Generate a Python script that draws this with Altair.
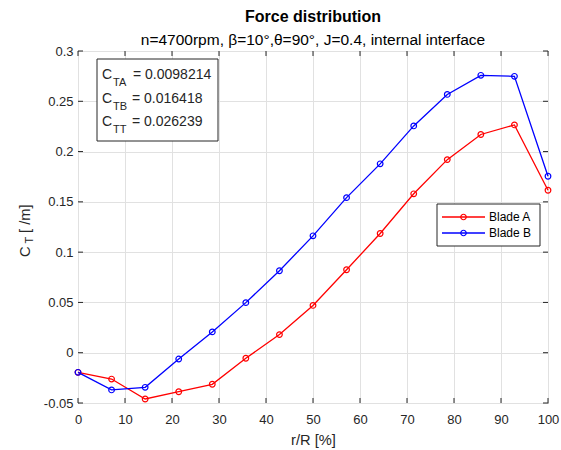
import altair as alt
import pandas as pd

# Radial stations r/R [%] and thrust coefficient per unit length for each blade
r_over_R = [0, 7.14, 14.29, 21.43, 28.57, 35.71, 42.86, 50, 57.14, 64.29, 71.43, 78.57, 85.71, 92.86, 100]
ct_blade_a = [-0.0195, -0.0262, -0.046, -0.0388, -0.0314, -0.0055, 0.018, 0.047, 0.0825, 0.1185, 0.158, 0.192, 0.217, 0.2265, 0.1615]
ct_blade_b = [-0.0195, -0.037, -0.0344, -0.0063, 0.0207, 0.0498, 0.0815, 0.1162, 0.1542, 0.1878, 0.2255, 0.2568, 0.2758, 0.2748, 0.1755]

series_names = ["Blade A", "Blade B"]
series_colors = ["#ff0000", "#0000ff"]

x_ticks = [0, 10, 20, 30, 40, 50, 60, 70, 80, 90, 100]
y_ticks = [-0.05, 0, 0.05, 0.1, 0.15, 0.2, 0.25, 0.3]

coef_subscripts = ["TA", "TB", "TT"]
coef_values = ["= 0.0098214", "= 0.016418", "= 0.026239"]

W, H = 470, 352
FONT = "Liberation Sans"
AX = "#262626"

df = pd.DataFrame({
    "r": r_over_R * 2,
    "ct": ct_blade_a + ct_blade_b,
    "blade": [series_names[0]] * len(r_over_R) + [series_names[1]] * len(r_over_R),
})

color = alt.Color("blade:N", scale=alt.Scale(domain=series_names, range=series_colors), legend=None)

x_enc = alt.X(
    "r:Q",
    scale=alt.Scale(domain=[0, 100], nice=False, zero=False),
    axis=alt.Axis(values=x_ticks, title="r/R [%]", ticks=False, domain=False,
                  labelFontSize=13, titleFontSize=14.67, labelPadding=10, titlePadding=6,
                  labelFlush=False),
)
y_enc = alt.Y(
    "ct:Q",
    scale=alt.Scale(domain=[-0.05, 0.3], nice=False, zero=False),
    axis=alt.Axis(values=y_ticks, title=None, ticks=False, domain=False,
                  labelFontSize=13, labelPadding=5, labelFlush=False,
                  labelExpr="datum.value < 0 ? '-' + format(-datum.value, '~g') : format(datum.value, '~g')"),
)

lines = alt.Chart(df).mark_line(strokeWidth=1.3).encode(x=x_enc, y=y_enc, color=color)
points = alt.Chart(df).mark_point(filled=False, size=32, strokeWidth=1.2, opacity=1).encode(
    x="r:Q", y="ct:Q", color=color)

# Inward-pointing tick marks on all four sides of the box
xt = pd.DataFrame({"r": x_ticks})
yt = pd.DataFrame({"ct": y_ticks})
tick_style = dict(color=AX, strokeWidth=1)
bottom_ticks = alt.Chart(xt).mark_rule(**tick_style).encode(x="r:Q", y=alt.value(H), y2=alt.value(H - 5))
top_ticks = alt.Chart(xt).mark_rule(**tick_style).encode(x="r:Q", y=alt.value(0), y2=alt.value(5))
left_ticks = alt.Chart(yt).mark_rule(**tick_style).encode(y="ct:Q", x=alt.value(0), x2=alt.value(5))
right_ticks = alt.Chart(yt).mark_rule(**tick_style).encode(y="ct:Q", x=alt.value(W - 5), x2=alt.value(W))


def one_row(**cols):
    return pd.DataFrame({k: [v] for k, v in cols.items()})


def label(text, x, y, size, angle=0, align="left", baseline="alphabetic", color=AX):
    return alt.Chart(one_row(t=text)).mark_text(
        font=FONT, fontSize=size, align=align, baseline=baseline, angle=angle, color=color
    ).encode(x=alt.value(x), y=alt.value(y), text="t:N")


def box(x0, x1, y0, y1):
    return alt.Chart(one_row(k=0)).mark_rect(fill="white", stroke=AX, strokeWidth=1).encode(
        x=alt.value(x0), x2=alt.value(x1), y=alt.value(y0), y2=alt.value(y1))


# Y axis title with subscript: C_T [ /m]
y_title = [
    label("C", -48, 206, 14.67, angle=270),
    label("T", -45.5, 192.5, 11, angle=270),
    label("[ /m]", -48, 182, 14.67, angle=270),
]

# Text box with integrated coefficients
coef_layers = [box(19, 140, 8, 90)]
for i, (sub, val) in enumerate(zip(coef_subscripts, coef_values)):
    base = 28 + 23.7 * i
    coef_layers.append(label("C", 24, base, 14))
    coef_layers.append(label(sub, 35, base + 7, 11))
    coef_layers.append(label(val, 55 if i == 0 else 54, base, 14))

# Legend box with line + marker samples
legend_layers = [box(359, 462, 153, 195)]
for i, (name, col) in enumerate(zip(series_names, series_colors)):
    yy = 166 + 16 * i
    legend_layers.append(
        alt.Chart(one_row(n=name)).mark_rule(color=col, strokeWidth=1.3).encode(
            x=alt.value(364), x2=alt.value(407), y=alt.value(yy)))
    legend_layers.append(
        alt.Chart(one_row(n=name)).mark_point(filled=False, size=30, strokeWidth=1.2, color=col, opacity=1).encode(
            x=alt.value(385.5), y=alt.value(yy)))
    legend_layers.append(label(name, 411, yy, 12, baseline="middle", color="black"))

chart = alt.layer(
    lines, points, bottom_ticks, top_ticks, left_ticks, right_ticks,
    *y_title, *coef_layers, *legend_layers,
).properties(
    width=W,
    height=H,
    autosize=alt.AutoSizeParams(type="none"),
    padding={"left": 78, "top": 51, "right": 13, "bottom": 47},
    background="white",
    title=alt.TitleParams(
        text="Force distribution",
        subtitle="n=4700rpm, β=10°,θ=90°, J=0.4, internal interface",
        font=FONT, fontSize=16, fontWeight="bold", color="black",
        subtitleFont=FONT, subtitleFontSize=15.5, subtitleColor="black",
        anchor="middle", offset=-3, subtitlePadding=8,
    ),
).configure_view(
    stroke=AX, strokeWidth=1
).configure_axis(
    gridColor="#e1e1e1", gridWidth=1, labelColor=AX, titleColor=AX,
    labelFont=FONT, titleFont=FONT, titleFontWeight="normal",
)

chart.save("out.html", embed_options={"renderer": "svg", "actions": False})
